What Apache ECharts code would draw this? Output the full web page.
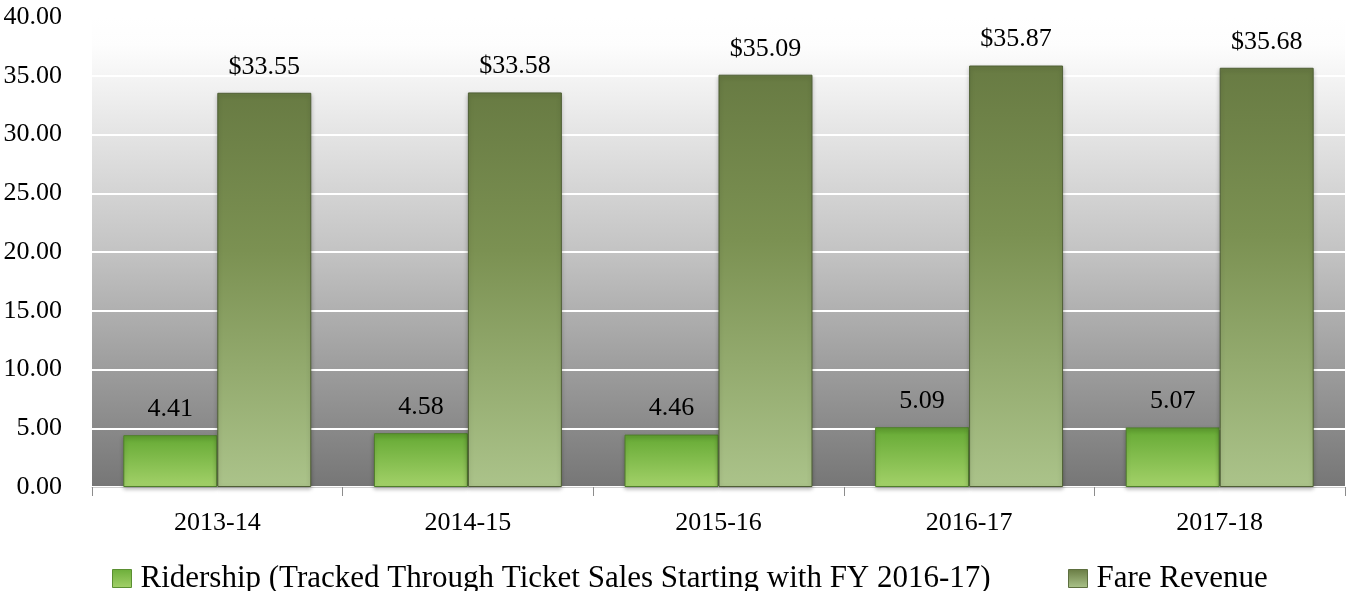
<!DOCTYPE html>
<html>
<head>
<meta charset="utf-8">
<script src="https://cdn.jsdelivr.net/npm/echarts@6/dist/echarts.min.js"></script>
<style>
  html, body { margin: 0; padding: 0; background: #ffffff; }
  #chart { width: 1346px; height: 591px; }
</style>
</head>
<body>
<div id="chart"></div>
<script>
// Fiscal years on the category axis
const years = ['2013-14', '2014-15', '2015-16', '2016-17', '2017-18'];
// Ridership (millions)
const ridership = [4.41, 4.58, 4.46, 5.09, 5.07];
// Fare revenue (millions of dollars)
const fareRevenue = [33.55, 33.58, 35.09, 35.87, 35.68];
const seriesNames = ['Ridership (Tracked Through Ticket Sales Starting with FY 2016-17)', 'Fare Revenue'];

const FONT = '"Liberation Serif", "DejaVu Serif", serif';

function vGrad(stops) {
  return new echarts.graphic.LinearGradient(0, 0, 0, 1,
    stops.map(function (s) { return { offset: s[0], color: s[1] }; }));
}

const ridershipFill = vGrad([[0, '#5e9e2e'], [0.12, '#6cae3a'], [1, '#a3d169']]);
const fareFill = vGrad([[0, '#687b43'], [0.4, '#7b9152'], [1, '#abc38a']]);

const legendText = { fontFamily: FONT, fontSize: 31, color: '#000', padding: [0, 0, 0, 4] };

const chart = echarts.init(document.getElementById('chart'), null, { renderer: 'canvas' });

chart.setOption({
  animation: false,
  grid: {
    left: 92, right: 1, top: 17, bottom: 104,
    show: true,
    borderWidth: 0,
    backgroundColor: vGrad([[0, '#ffffff'], [0.06, '#fdfdfd'], [0.5, '#c3c3c3'], [1, '#767676']])
  },
  legend: [
    {
      left: 107, top: 558,
      itemWidth: 19, itemHeight: 18,
      icon: 'rect',
      textStyle: legendText,
      data: [{ name: seriesNames[0], itemStyle: { color: vGrad([[0, '#6cae3a'], [1, '#a3d169']]), borderColor: '#5b8f32', borderWidth: 1 } }]
    },
    {
      left: 1063, top: 558,
      itemWidth: 19, itemHeight: 18,
      icon: 'rect',
      textStyle: legendText,
      data: [{ name: seriesNames[1], itemStyle: { color: vGrad([[0, '#687b43'], [1, '#abc38a']]), borderColor: '#5d6f3f', borderWidth: 1 } }]
    }
  ],
  xAxis: {
    type: 'category',
    data: years,
    axisLine: { show: true, lineStyle: { color: '#d0d0d0', width: 1 } },
    axisTick: { show: true, length: 9, lineStyle: { color: '#8c8c8c' } },
    axisLabel: { fontFamily: FONT, fontSize: 26, color: '#000', margin: 23 }
  },
  yAxis: {
    type: 'value',
    min: 0, max: 40, interval: 5,
    axisLine: { show: false },
    axisTick: { show: false },
    splitLine: { show: true, lineStyle: { color: '#ffffff', width: 2 } },
    axisLabel: {
      fontFamily: FONT, fontSize: 26, color: '#000', margin: 30,
      formatter: function (v) { return v.toFixed(2); }
    }
  },
  series: [
    {
      name: seriesNames[0],
      type: 'bar',
      data: ridership,
      barGap: '0%',
      barCategoryGap: '25%',
      itemStyle: {
        color: ridershipFill,
        borderColor: '#4f7f2a', borderWidth: 1,
        shadowColor: 'rgba(0,0,0,0.25)', shadowBlur: 4, shadowOffsetY: 2
      },
      label: {
        show: true, position: 'top', distance: 13,
        fontFamily: FONT, fontSize: 26, color: '#000',
        formatter: function (p) { return p.value.toFixed(2); }
      }
    },
    {
      name: seriesNames[1],
      type: 'bar',
      data: fareRevenue,
      barGap: '0%',
      barCategoryGap: '25%',
      itemStyle: {
        color: fareFill,
        borderColor: '#4f5f35', borderWidth: 1,
        shadowColor: 'rgba(0,0,0,0.25)', shadowBlur: 4, shadowOffsetY: 2
      },
      label: {
        show: true, position: 'top', distance: 13,
        fontFamily: FONT, fontSize: 26, color: '#000',
        formatter: function (p) { return '$' + p.value.toFixed(2); }
      }
    }
  ]
});
</script>
</body>
</html>
